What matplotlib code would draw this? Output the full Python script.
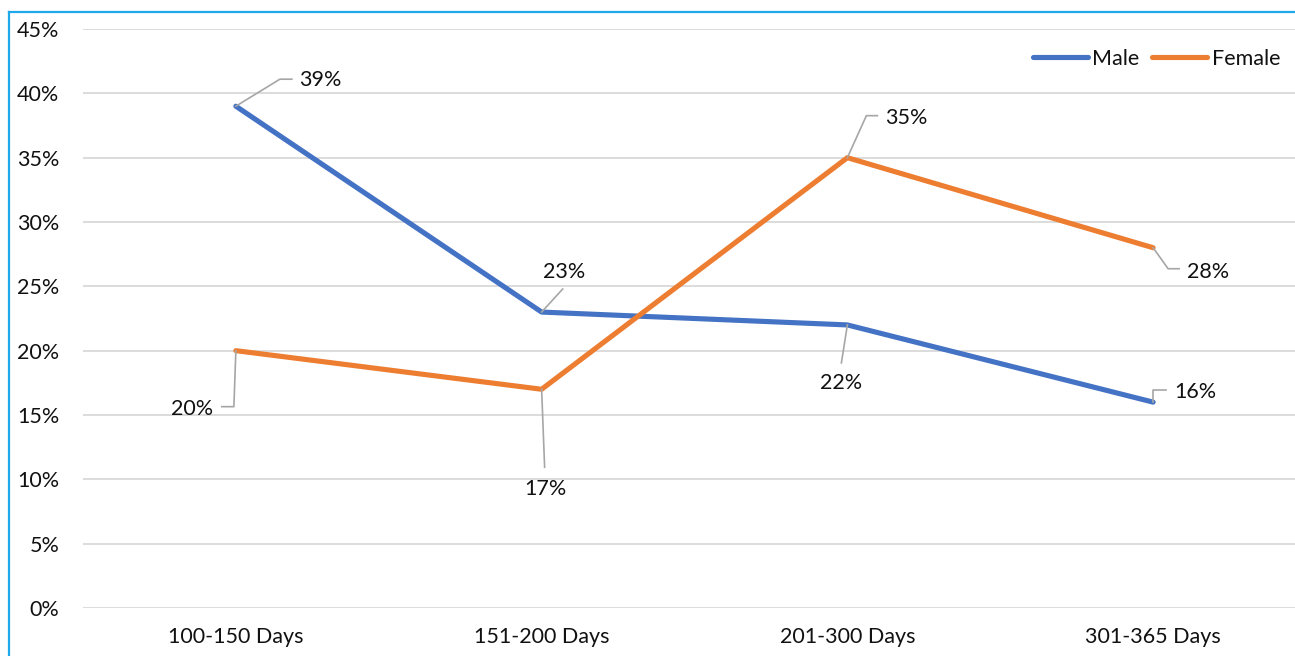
import matplotlib.pyplot as plt
from matplotlib.lines import Line2D
from matplotlib.ticker import FuncFormatter

# stay duration groups and share of patients by sex
categories = ['100-150 Days', '151-200 Days', '201-300 Days', '301-365 Days']
male = [39, 23, 22, 16]
female = [20, 17, 35, 28]

# label placement in pixels relative to each point: text centre and leader vertices
male_text = [(84, 28), (22, 42), (-6, -56), (42, 12)]
male_leader = [[(0, 0), (44, 27), (56, 27)],
               [(0, 0), (21, 23)],
               [(0, 0), (-6, -38)],
               [(0, 0), (0, 12), (13, 12)]]
female_text = [(-44, -56), (4, -98), (59, 42), (55, -22)]
female_leader = [[(0, 0), (-2, -56), (-14, -56)],
                 [(0, 0), (3, -78)],
                 [(0, 0), (19, 42), (30, 42)],
                 [(0, 0), (15, -21), (26, -21)]]

BLUE = '#4472C4'
ORANGE = '#ED7D31'
GRID = '#D9D9D9'
LEADER = '#A6A6A6'

plt.rcParams['font.family'] = ['Lato', 'DejaVu Sans']
plt.rcParams['font.size'] = 15.5
plt.rcParams['text.color'] = '#111111'
plt.rcParams['xtick.color'] = '#111111'
plt.rcParams['ytick.color'] = '#111111'

W, H = 1295, 656
fig = plt.figure(figsize=(W / 100, H / 100), dpi=100)
ax = fig.add_axes([83 / W, 1 - 608 / H, 1223 / W, 579 / H])

x = list(range(len(categories)))
ax.plot(x, male, color=BLUE, lw=3.7, label='Male', solid_capstyle='round')
ax.plot(x, female, color=ORANGE, lw=3.7, label='Female', solid_capstyle='round')

ax.set_xlim(-0.5, 3.5)
ax.set_ylim(0, 45)
ax.set_yticks(range(0, 46, 5))
ax.yaxis.set_major_formatter(FuncFormatter(lambda v, p: '%d%%' % v))
ax.set_xticks(x)
ax.set_xticklabels(categories)
ax.tick_params(axis='y', length=0, pad=17)
ax.tick_params(axis='x', length=0, pad=14)
ax.grid(axis='y', color=GRID, lw=1.3)
ax.set_axisbelow(True)
for s in ax.spines.values():
    s.set_visible(False)

fig.canvas.draw()


def add_labels(values, texts, leaders):
    for i, v in enumerate(values):
        px, py = ax.transData.transform((i, v))
        xs = [px + dx for dx, dy in leaders[i]]
        ys = [py + dy for dx, dy in leaders[i]]
        fig.add_artist(Line2D(xs, ys, transform=None, color=LEADER, lw=1.2))
        tx, ty = texts[i]
        fig.text((px + tx) / W, (py + ty) / H, '%d%%' % v,
                 ha='center', va='center_baseline')


add_labels(male, male_text, male_leader)
add_labels(female, female_text, female_leader)

ax.legend(loc='center left', bbox_to_anchor=(1033 / W, 1 - 59 / H),
          bbox_transform=fig.transFigure, ncol=2, frameon=False,
          borderpad=0, borderaxespad=0, handlelength=2.55,
          handletextpad=0.2, columnspacing=0.6)

# frame edges along the top and left
fig.add_artist(Line2D([9 / W, 9 / W], [0, 1 - 12 / H], transform=fig.transFigure,
                      color='#1FA9EA', lw=1.6))
fig.add_artist(Line2D([9 / W, 1], [1 - 12 / H, 1 - 12 / H], transform=fig.transFigure,
                      color='#1FA9EA', lw=1.6))

fig.savefig('out.png', dpi=100)
